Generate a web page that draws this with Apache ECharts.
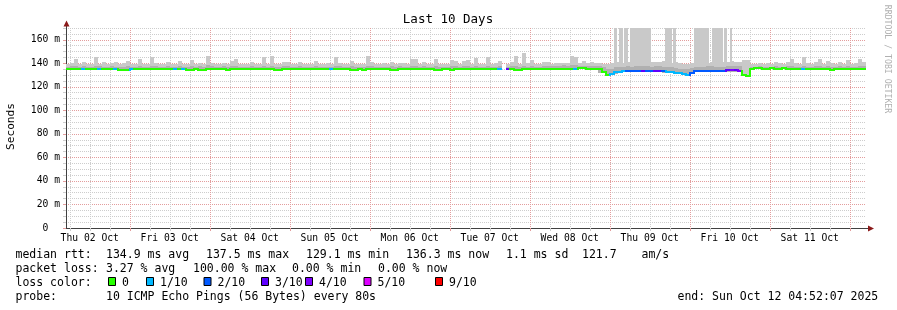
<!DOCTYPE html>
<html><head><meta charset="utf-8">
<script src="https://cdn.jsdelivr.net/npm/echarts@6/dist/echarts.min.js"></script>
<style>html,body{margin:0;padding:0;background:#fff}#c{width:897px;height:310px}</style>
</head><body><div id="c"></div>
<script>
// ---------- data ----------
const titleText = 'Last 10 Days';
const yAxisName = 'Seconds';
const watermark = 'RRDTOOL / TOBI OETIKER';
// time axis: hours since Thu 02 Oct 00:00
const startHour = 4.8686;   // Thu 02 Oct 04:52:07
const endHour = 244.8686;   // Sun 12 Oct 04:52:07
const binHours = 1.2;       // width of one data bin
const dayLabels = ['Thu 02 Oct','Fri 03 Oct','Sat 04 Oct','Sun 05 Oct','Mon 06 Oct','Tue 07 Oct','Wed 08 Oct','Thu 09 Oct','Fri 10 Oct','Sat 11 Oct'];
const noonTicks = [12,36,60,84,108,132,156,180,204,228];
const midnightTicks = [24,48,72,96,120,144,168,192,216,240];
const sixHourTicks = [6,12,18,24,30,36,42,48,54,60,66,72,78,84,90,96,102,108,114,120,126,132,138,144,150,156,162,168,174,180,186,192,198,204,210,216,222,228,234,240];
const yTicksMajor = [0,20,40,60,80,100,120,140,160];
const yMax = 170;

// median RTT (ms) per bin
const medianRtt = [
135.4,135.4,135.5,135.4,135.3,135.4,135.4,135.5,135.3,135.4,135.4,135.4,135.2,134.5,134.4,134.6,135.3,135.4,135.4,135.4,
135.4,135.5,135.4,135.4,135.4,135.3,135.4,135.3,135.4,135.3,134.6,134.5,135.4,134.5,134.6,135.4,135.4,135.4,135.4,135.4,
134.6,135.4,135.4,135.4,135.4,135.4,135.4,135.4,135.4,135.4,135.4,135.4,134.5,134.5,135.4,135.4,135.4,135.4,135.4,135.4,
135.4,135.4,135.4,135.4,135.4,135.4,135.3,135.4,135.4,135.4,135.4,134.5,134.6,135.4,134.6,135.4,135.4,135.4,135.4,135.4,
135.4,134.6,134.5,135.4,135.4,135.4,135.4,135.4,135.4,135.4,135.4,135.4,134.6,134.5,135.4,135.4,134.6,135.4,135.4,135.4,
135.5,135.5,135.4,134.8,135.5,135.5,135.5,135.5,135.3,null,135.0,135.5,134.6,134.6,135.5,135.5,135.5,135.5,135.5,135.4,
135.5,135.5,135.4,135.5,135.4,135.5,135.5,135.3,135.6,135.6,135.5,135.5,135.4,135.0,
133.0,129.8,131.0,132.2,133.0,133.3,133.5,133.5,133.5,133.6,133.5,133.6,133.6,133.5,133.4,133.2,132.8,132.4,132.0,131.4,
130.6,130.0,132.0,133.4,133.6,133.6,133.6,133.6,133.7,133.6,133.7,134.0,134.0,134.0,133.8,130.0,129.6,
135.5,135.6,135.6,135.5,135.5,135.6,135.5,135.5,135.6,135.5,135.5,135.5,135.4,134.8,134.9,135.4,135.5,135.5,135.5,135.5,
134.7,135.5,135.5,135.5,135.5,135.5,135.5,135.5,135.4
];
// packet loss (pings lost out of 10) per bin
const lossTenths = [
0,0,0,0,1,0,0,0,1,0,0,0,1,0,0,0,1,0,0,0,
0,0,0,0,0,0,0,1,0,1,0,0,0,0,0,0,0,0,0,0,
0,0,0,0,0,0,0,0,0,0,0,0,0,0,0,0,0,0,0,0,
0,0,0,0,0,0,1,0,0,0,0,0,0,0,0,0,0,0,0,0,
0,0,0,0,0,0,0,0,0,0,0,0,0,0,0,0,0,0,0,0,
0,0,0,0,0,0,0,0,1,0,3,0,0,0,0,0,0,0,0,0,
0,0,0,0,0,0,0,1,0,0,0,0,0,0,
0,0,1,1,1,1,2,2,2,2,3,2,2,3,3,2,1,1,1,1,
1,1,2,2,2,2,2,2,2,2,2,3,4,3,4,0,0,
0,0,0,0,0,0,0,0,0,0,0,0,0,1,0,0,0,0,0,0,
0,0,0,0,0,0,0,0,0
];
// smoke: lowest ping, inner band top, highest ping (ms)
const smokeMin = [
134.6,134.6,134.6,134.6,134.6,134.6,134.6,134.6,134.6,134.6,134.6,134.6,134.5,134.0,134.0,134.1,134.6,134.6,134.6,134.6,
134.6,134.6,134.6,134.6,134.6,134.6,134.6,134.6,134.6,134.6,134.1,134.0,134.6,134.0,134.1,134.6,134.6,134.6,134.6,134.6,
134.1,134.6,134.6,134.6,134.6,134.6,134.6,134.6,134.6,134.6,134.6,134.6,134.0,134.0,134.6,134.6,134.6,134.6,134.6,134.6,
134.6,134.6,134.6,134.6,134.6,134.6,134.6,134.6,134.6,134.6,134.6,134.0,134.1,134.6,134.1,134.6,134.6,134.6,134.6,134.6,
134.6,134.1,134.0,134.6,134.6,134.6,134.6,134.6,134.6,134.6,134.6,134.6,134.1,134.0,134.6,134.6,134.1,134.6,134.6,134.6,
134.7,134.7,134.6,134.3,134.7,134.7,134.7,134.7,134.6,null,134.5,134.7,134.1,134.1,134.7,134.7,134.7,134.7,134.7,134.6,
134.7,134.7,134.6,134.7,134.6,134.7,134.7,134.6,134.8,134.8,134.7,134.7,134.6,132.0,
132.5,129.2,130.2,131.2,132.0,132.3,132.5,132.5,132.5,132.6,132.5,132.6,132.6,132.5,132.4,132.0,131.8,131.4,131.0,130.5,
129.8,129.3,130.5,132.4,132.6,132.6,132.6,132.6,132.7,132.6,132.7,133.0,133.0,133.0,132.8,129.2,129.2,
134.7,134.8,134.8,134.7,134.7,134.8,134.7,134.7,134.8,134.7,134.7,134.7,134.3,134.4,134.4,134.6,134.7,134.7,134.7,134.7,
134.2,134.7,134.7,134.7,134.7,134.7,134.7,134.7,134.6
];
const smokeMid = [
137,137.5,138,137,137.5,137,137,138,137.5,137,136.8,137.5,137,136.8,137,137.5,137,137,138,137,
137,138,137.5,137,137,137.5,137,137,138,137,136.8,137.5,137,137.5,137,138.5,137.5,137,137,137.5,
137,137.5,138,137,137,136.8,137.5,137,137,138,137,138,137,136.8,137.5,137.5,137,137,137.5,137,
137,137,137.5,137,136.8,137,137,138,137.5,137,137,138,137,137,137,138,137.5,137,136.8,137,
137,137.5,137,137.5,137,137,138,138,137,137.5,137,137,138,137,137,136.8,137.5,137.5,137,137.5,
137.5,137,138,137,137,138,137,137,137.5,null,137,137.5,138,137,138,137,137.5,137,137,137.5,
138,137.5,138,138,138.5,138,138.5,138.5,138,138,137.5,138,137.5,137.5,
136.5,135,135.5,136.5,137,137,137.5,137,137.5,137.5,137.5,137.5,137,137.5,137.5,137,136.5,136.5,136,135.5,
135,135,136,137,137,137,137.5,137.5,137,137,137,137.5,137.5,137.5,137.5,130,130,
137,137,137.5,137,137,137,137.5,137,137,137.5,138,137,137,138,137,137,137.5,138,137,137.5,
137,137,137.5,137,138,137,137,138,137.5
];
const smokeMax = [
139.5,140,143.5,139.5,141,139,139.5,145,139.5,141,139,140,141.5,139.5,140,142,139.5,139,144,139.5,
139.5,145.5,140,139.5,139,141,139.5,139.5,142,139.5,139,143,139.5,140,139.5,146,140.5,139.5,139.5,140,
139.5,142,144,139.5,139.5,139,141,139.5,139.5,145,139.5,146,139.5,139,141.5,141,139.5,139.5,141,139.5,
139.5,139.5,142,139.5,139,140,139.5,145,140,139.5,139.5,142,139.5,139.5,139.5,146,141,139.5,139,140,
139.5,141,139.5,140.5,140,139.5,143.5,144,139.5,141,139.5,139.5,144,139.5,139.5,139,143,142,139.5,142,
142.5,139.5,144.5,139.5,139.5,145,139.5,140,142,null,139.5,141,146,139.5,149,140,143,139.5,139.5,141,
141,139.5,140,140,140.5,140,146,145,140.5,142,140,141.5,140,140.5,
139.5,139,140,141,141,140.5,141,140.5,141.5,140.5,141,142.5,141,141.5,141,142,141,140.5,141,140,
139.5,139.5,140,140.5,141,141,140.5,141,140.5,141.5,141,141,142,141.5,141,143,143,
139.5,139,140,139.5,140,139.5,141,140,139.5,141.5,144,140,139.5,145,140,139.5,141,144,139.5,142,
140,139.5,141,139.5,143,139.5,140,144,141
];
// periods where the highest ping went off the top of the chart (hours)
const blockStart = [169.3,170.8,172.3,174.1,184.6,187.0,193.3,198.7,202.3,204.1];
const blockEnd   = [170.2,172.0,173.5,180.4,186.7,187.9,197.8,202.0,203.2,204.7];
const blockFloor = 137;

const lossLevels = [0,1,2,3,4,5,9];
const lossLabels = ['0','1/10','2/10','3/10','4/10','5/10','9/10'];
const lossColors = ['#26ff00','#00b8ff','#0059ff','#5e00ff','#7e00ff','#dd00ff','#ff0000'];

const rttStats = ['median rtt:','134.9 ms avg','137.5 ms max','129.1 ms min','136.3 ms now','1.1 ms sd','121.7','am/s'];
const lossStats = ['packet loss:','3.27 % avg','100.00 % max','0.00 % min','0.00 % now'];
const probeText = ['probe:','10 ICMP Echo Pings (56 Bytes) every 80s'];
const endText = 'end: Sun Oct 12 04:52:07 2025';

// ---------- layout / style ----------
const FONT = 'DejaVu Sans Mono';
const GRID_MINOR = '#cdcdcd';
const GRID_MAJOR = '#e39d9d';
const AXIS_COL = '#404040';
const ARROW_COL = '#8b1a1a';
const SMOKE_LIGHT = '#c9c9c9';
const SMOKE_MID = '#b0b0b0';

function colorForLoss(l) {
  let c = lossColors[0];
  for (let k = 0; k < lossLevels.length; k++) if (l >= lossLevels[k]) c = lossColors[k];
  return c;
}

const smokeRows = [], lineRows = [];
for (let i = 0; i < medianRtt.length; i++) {
  const x0 = startHour + i * binHours, x1 = startHour + (i + 1) * binHours;
  if (smokeMax[i] != null && smokeMin[i] != null) smokeRows.push([x0, x1, smokeMin[i], smokeMid[i], smokeMax[i]]);
  if (medianRtt[i] != null) {
    const prev = (i > 0 && medianRtt[i-1] != null) ? medianRtt[i-1] : medianRtt[i];
    lineRows.push([x0, x1, medianRtt[i], lossTenths[i], prev]);
  }
}
const blockRows = blockStart.map((s, i) => [s, blockEnd[i], blockFloor, yMax]);

function renderBlock(params, api) {
  const a = api.coord([api.value(0), api.value(3)]);
  const b = api.coord([api.value(1), api.value(2)]);
  const x = Math.round(a[0]), w = Math.max(1, Math.round(b[0]) - x);
  return {type: 'rect', shape: {x: x, y: a[1], width: w, height: b[1] - a[1]}, style: {fill: SMOKE_LIGHT}};
}
function renderSmoke(params, api) {
  const x0 = api.value(0), x1 = api.value(1);
  const pLo = api.coord([x0, api.value(2)]);
  const pMid = api.coord([x1, api.value(3)]);
  const pHi = api.coord([x1, api.value(4)]);
  const l = Math.round(pLo[0]), r = Math.round(pHi[0]);
  const yLo = Math.round(pLo[1]), yMid = Math.round(pMid[1]), yHi = Math.round(pHi[1]);
  return {type: 'group', children: [
    {type: 'rect', shape: {x: l, y: yHi, width: r - l, height: yLo - yHi}, style: {fill: SMOKE_LIGHT}},
    {type: 'rect', shape: {x: l, y: yMid, width: r - l, height: Math.max(0, yLo - yMid)}, style: {fill: SMOKE_MID}}
  ]};
}
function renderMedian(params, api) {
  const x0 = api.value(0), x1 = api.value(1), v = api.value(2), loss = api.value(3), prev = api.value(4);
  const a = api.coord([x0, v]), b = api.coord([x1, v]);
  const col = colorForLoss(loss);
  const l = Math.round(a[0]), r = Math.round(b[0]);
  const y = Math.round(a[1]) - 1;
  const ch = [{type: 'rect', shape: {x: l, y: y, width: r - l, height: 2}, style: {fill: col}}];
  if (prev !== v) {
    const p = api.coord([x0, prev]);
    const py = Math.round(p[1]) - 1;
    const top = Math.min(py, y), bot = Math.max(py, y) + 2;
    ch.push({type: 'rect', shape: {x: l - 1, y: top, width: 2, height: bot - top}, style: {fill: col}});
  }
  return {type: 'group', children: ch};
}

// legend graphics
const graphics = [];
function txt(s, x, y, size, extra) {
  graphics.push(Object.assign({type: 'text', x: x, y: y, style: {text: s, font: size + 'px "' + FONT + '"', fill: '#000', align: 'left', verticalAlign: 'middle'}}, extra || {}));
}
txt(titleText, 448, 19.8, 12.5, {style: {text: titleText, font: '12.5px "' + FONT + '"', fill: '#000', align: 'center', verticalAlign: 'middle'}});
graphics.push({type: 'text', x: 11.5, y: 126.5, rotation: Math.PI / 2, style: {text: yAxisName, font: '11.1px "' + FONT + '"', fill: '#000', align: 'center', verticalAlign: 'middle'}});
graphics.push({type: 'text', x: 887, y: 59, rotation: -Math.PI / 2, style: {text: watermark, font: '8.2px "' + FONT + '"', fill: '#b0b0b0', align: 'center', verticalAlign: 'middle'}});
const LF = 11.5;
const row1X = [15.5, 106, 206, 306, 406, 506, 582, 641.5];
rttStats.forEach((s, i) => txt(s, row1X[i], 254.6, LF));
const row2X = [15.5, 106, 193, 292, 378];
lossStats.forEach((s, i) => txt(s, row2X[i], 268.6, LF));
txt('loss color:', 15.5, 282.6, LF);
const sqX = [108, 146, 203.5, 261, 305, 363.5, 435];
lossLabels.forEach((s, i) => {
  graphics.push({type: 'rect', shape: {x: sqX[i] + 0.5, y: 277.5, width: 7, height: 8}, style: {fill: lossColors[i], stroke: '#000', lineWidth: 1}});
  txt(s, sqX[i] + 14, 282.6, LF);
});
txt(probeText[0], 15.5, 296.6, LF);
txt(probeText[1], 106, 296.6, LF);
txt(endText, 677.5, 296.6, LF);
// axis arrows and extensions
graphics.push({type: 'line', shape: {x1: 66.5, y1: 28, x2: 66.5, y2: 24}, style: {stroke: AXIS_COL, lineWidth: 1}});
graphics.push({type: 'polygon', shape: {points: [[63.5, 26.5], [69.5, 26.5], [66.5, 20.5]]}, style: {fill: ARROW_COL}});
graphics.push({type: 'line', shape: {x1: 866, y1: 228.5, x2: 869, y2: 228.5}, style: {stroke: AXIS_COL, lineWidth: 1}});
graphics.push({type: 'polygon', shape: {points: [[868, 225.5], [868, 231.5], [874, 228.5]]}, style: {fill: ARROW_COL}});

const axisLabelStyle = {color: '#000', fontFamily: FONT, fontSize: 9.7};
const option = {
  animation: false,
  backgroundColor: '#ffffff',
  tooltip: {show: false},
  grid: {left: 66, right: 31, top: 28, bottom: 82},
  xAxis: [
    {type: 'value', min: startHour, max: endHour, position: 'bottom',
     axisLine: {show: true, onZero: false, lineStyle: {color: AXIS_COL, width: 1}},
     axisTick: {show: true, length: 3, customValues: sixHourTicks, lineStyle: {color: GRID_MINOR}},
     axisLabel: Object.assign({show: true, margin: 5, customValues: noonTicks,
       formatter: v => { const k = Math.round((v - 12) / 24); return dayLabels[k] || ''; }}, axisLabelStyle),
     splitLine: {show: true, lineStyle: {color: GRID_MINOR, width: 1, type: [1, 1]}}},
    {type: 'value', min: startHour, max: endHour, position: 'bottom',
     axisLine: {show: false, onZero: false},
     axisTick: {show: true, length: 3, customValues: midnightTicks, lineStyle: {color: GRID_MAJOR}},
     axisLabel: {show: false},
     splitLine: {show: true, lineStyle: {color: GRID_MAJOR, width: 1, type: [1, 1]}}}
  ],
  yAxis: [
    {type: 'value', min: 0, max: yMax, interval: 5, position: 'left',
     axisLine: {show: true, onZero: false, lineStyle: {color: AXIS_COL, width: 1}},
     axisTick: {show: true, length: 3, lineStyle: {color: GRID_MINOR}},
     axisLabel: {show: false},
     splitLine: {show: true, lineStyle: {color: GRID_MINOR, width: 1, type: [1, 1]}}},
    {type: 'value', min: 0, max: yMax, position: 'left',
     axisLine: {show: false, onZero: false},
     axisTick: {show: true, length: 3, customValues: yTicksMajor, lineStyle: {color: GRID_MAJOR}},
     axisLabel: Object.assign({show: true, margin: 6, customValues: yTicksMajor,
       formatter: v => v === 0 ? '0  ' : v + ' m'}, axisLabelStyle),
     splitLine: {show: true, lineStyle: {color: GRID_MAJOR, width: 1, type: [1, 1]}}}
  ],
  series: [
    {type: 'custom', name: 'offscale', xAxisIndex: 0, yAxisIndex: 0, clip: true, silent: true,
     renderItem: renderBlock, data: blockRows, encode: {x: [0, 1], y: [2, 3]}},
    {type: 'custom', name: 'smoke', xAxisIndex: 0, yAxisIndex: 0, clip: true, silent: true,
     renderItem: renderSmoke, data: smokeRows, encode: {x: [0, 1], y: [2, 3, 4]}},
    {type: 'custom', name: 'median rtt', xAxisIndex: 0, yAxisIndex: 0, clip: true, silent: true,
     renderItem: renderMedian, data: lineRows, encode: {x: [0, 1], y: [2]}}
  ],
  graphic: graphics
};
const chart = echarts.init(document.getElementById('c'));
chart.setOption(option);
</script>
</body></html>
